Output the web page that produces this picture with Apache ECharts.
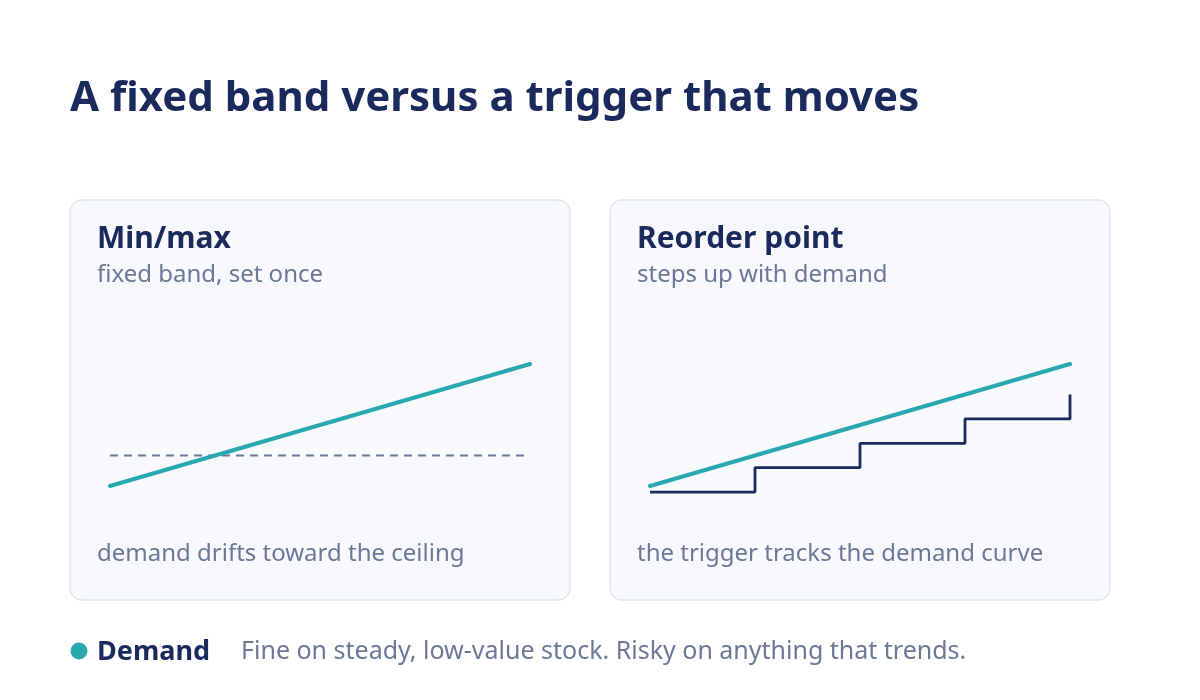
<!DOCTYPE html>
<html>
<head>
<meta charset="utf-8">
<script src="https://cdn.jsdelivr.net/npm/echarts@6/dist/echarts.min.js"></script>
<style>
html,body{margin:0;padding:0;background:#ffffff;}
#chart{width:1200px;height:700px;}
</style>
</head>
<body>
<div id="chart"></div>
<script>
// ---- data ----
var periods = [0, 1, 2, 3, 4];
var demand = [20, 30, 40, 50, 60];
var fixedCeiling = [30, 30, 30, 30, 30];
var reorderPoint = [18, 26, 34, 42, 50];

var titleText = 'A fixed band versus a trigger that moves';
var panelTitles = ['Min/max', 'Reorder point'];
var panelSubtitles = ['fixed band, set once', 'steps up with demand'];
var panelNotes = ['demand drifts toward the ceiling', 'the trigger tracks the demand curve'];
var legendLabel = 'Demand';
var caption = 'Fine on steady, low-value stock. Risky on anything that trends.';

var NAVY = '#1b2a5c';
var TEAL = '#2aa8b0';
var GREY = '#6b7897';
var FONT = '"Noto Sans", "Open Sans", sans-serif';

function pairs(xs, ys) { return xs.map(function (x, i) { return [x, ys[i]]; }); }

var chart = echarts.init(document.getElementById('chart'), null, { renderer: 'canvas' });

var cardLefts = [70, 610];
var graphics = [];
cardLefts.forEach(function (l, i) {
  graphics.push({
    type: 'rect', z: -10,
    shape: { x: l, y: 200, width: 500, height: 400, r: 12 },
    style: { fill: '#f7f9fc', stroke: '#e1e5ee', lineWidth: 1.5 }
  });
  graphics.push({
    type: 'text', z: 10,
    style: { x: l + 27, y: 239, text: panelTitles[i], font: 'bold 30px ' + FONT, fill: NAVY, verticalAlign: 'middle' }
  });
  graphics.push({
    type: 'text', z: 10,
    style: { x: l + 27, y: 275, text: panelSubtitles[i], font: '24px ' + FONT, fill: GREY, verticalAlign: 'middle' }
  });
  graphics.push({
    type: 'text', z: 10,
    style: { x: l + 27, y: 554, text: panelNotes[i], font: '24px ' + FONT, fill: GREY, verticalAlign: 'middle' }
  });
});
graphics.push({
  type: 'text', z: 10,
  style: { x: 70, y: 99, text: titleText, font: 'bold 42px ' + FONT, fill: NAVY, verticalAlign: 'middle' }
});
graphics.push({
  type: 'circle', z: 10,
  shape: { cx: 79, cy: 651, r: 8.5 },
  style: { fill: TEAL }
});
graphics.push({
  type: 'text', z: 10,
  style: { x: 97, y: 652, text: legendLabel, font: 'bold 27px ' + FONT, fill: NAVY, verticalAlign: 'middle' }
});
graphics.push({
  type: 'text', z: 10,
  style: { x: 241, y: 652, text: caption, font: '25px ' + FONT, fill: GREY, verticalAlign: 'middle' }
});

function xAx(idx) {
  return { type: 'value', gridIndex: idx, min: 0, max: 4, show: false };
}
function yAx(idx) {
  return { type: 'value', gridIndex: idx, min: 0, max: 80, show: false };
}

var option = {
  backgroundColor: '#ffffff',
  animation: false,
  grid: [
    { left: 110, top: 303, width: 420, height: 244 },
    { left: 650, top: 303, width: 420, height: 244 }
  ],
  xAxis: [xAx(0), xAx(1)],
  yAxis: [yAx(0), yAx(1)],
  graphic: graphics,
  series: [
    {
      name: 'Ceiling', type: 'line', xAxisIndex: 0, yAxisIndex: 0,
      data: pairs(periods, fixedCeiling), symbol: 'none',
      lineStyle: { color: GREY, width: 2, type: [8, 6] }, z: 2
    },
    {
      name: legendLabel, type: 'line', xAxisIndex: 0, yAxisIndex: 0,
      data: pairs(periods, demand), symbol: 'none',
      lineStyle: { color: TEAL, width: 4, cap: 'round' }, z: 3
    },
    {
      name: 'Reorder point', type: 'line', xAxisIndex: 1, yAxisIndex: 1,
      data: pairs(periods, reorderPoint), symbol: 'none', step: 'end',
      lineStyle: { color: NAVY, width: 2.8 }, z: 2
    },
    {
      name: legendLabel, type: 'line', xAxisIndex: 1, yAxisIndex: 1,
      data: pairs(periods, demand), symbol: 'none',
      lineStyle: { color: TEAL, width: 4, cap: 'round' }, z: 3
    }
  ]
};
chart.setOption(option);
</script>
</body>
</html>
